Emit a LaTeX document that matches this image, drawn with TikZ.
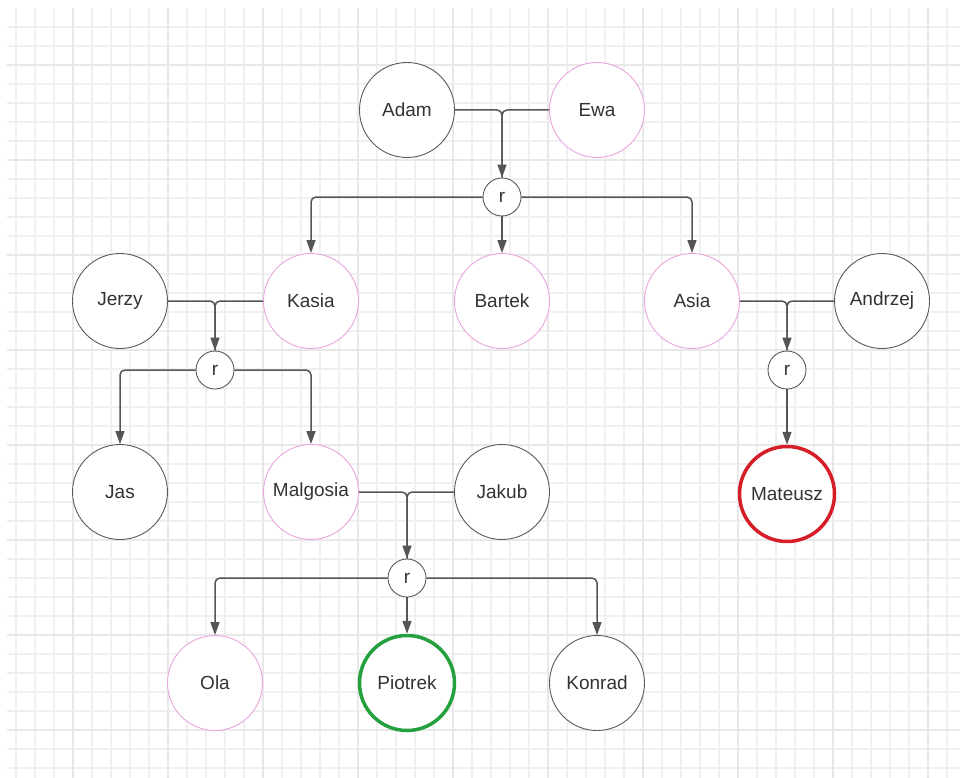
\documentclass[tikz,border=0pt]{standalone}
\usepackage{fontspec}
\setmainfont{Liberation Sans}
\usetikzlibrary{arrows.meta}
\definecolor{gridminor}{RGB}{240,240,240}
\definecolor{gridmajor}{RGB}{232,232,232}
\definecolor{edgegray}{RGB}{85,85,85}
\definecolor{mangray}{RGB}{90,90,90}
\definecolor{womanpink}{RGB}{232,165,222}
\definecolor{markred}{RGB}{214,30,40}
\definecolor{markgreen}{RGB}{36,160,62}
\definecolor{txtgray}{RGB}{51,51,51}
\begin{document}
\begin{tikzpicture}[
    x=1pt, y=-1pt,
    person/.style={circle, draw, fill=white, minimum size=95pt, inner sep=0pt,
                   font=\fontsize{19}{22}\selectfont, text=txtgray},
    man/.style={person, draw=mangray, line width=0.9pt},
    woman/.style={person, draw=womanpink, line width=0.9pt},
    rel/.style={circle, draw=mangray, fill=white, line width=0.9pt, minimum size=38pt,
                inner sep=0pt, font=\fontsize{19}{22}\selectfont, text=txtgray},
    link/.style={-{Triangle[width=9pt,length=13pt]}, draw=edgegray, line width=1.5pt,
                 rounded corners=5pt},
    spouseline/.style={draw=edgegray, line width=1.5pt, rounded corners=5pt}
]
\useasboundingbox (0,0) rectangle (960,778);

% grid background
\begin{scope}
  \clip (7,8) rectangle (960,778);
  \foreach \gx in {16,35,...,960} \draw[gridminor, line width=1.2pt] (\gx,8) -- (\gx,778);
  \foreach \gy in {27,46,...,778} \draw[gridminor, line width=1.2pt] (7,\gy) -- (960,\gy);
  \foreach \gx in {73,168,...,960} \draw[gridmajor, line width=1.4pt] (\gx,8) -- (\gx,778);
  \foreach \gy in {65,160,...,778} \draw[gridmajor, line width=1.4pt] (7,\gy) -- (960,\gy);
\end{scope}

% generation 1
\node[man]   (adam) at (407,110) {Adam};
\node[woman] (ewa)  at (597,110) {Ewa};
\node[rel]   (r1)   at (502,197) {r};

% generation 2
\node[man]   (jerzy)   at (120,301) {Jerzy};
\node[woman] (kasia)   at (311,301) {Kasia};
\node[woman] (bartek)  at (502,301) {Bartek};
\node[woman] (asia)    at (692,301) {Asia};
\node[man]   (andrzej) at (882,301) {Andrzej};
\node[rel]   (r2)      at (215,370) {r};
\node[rel]   (r3)      at (787,370) {r};

% generation 3
\node[man]   (jas)      at (120,492) {Jas};
\node[woman] (malgosia) at (311,492) {Malgosia};
\node[man]   (jakub)    at (502,492) {Jakub};
\node[person, draw=markred, line width=3.5pt] (mateusz) at (787,494) {Mateusz};
\node[rel]   (r4)       at (407,578) {r};

% generation 4
\node[woman] (ola)     at (215,683) {Ola};
\node[person, draw=markgreen, line width=3.5pt] (piotrek) at (407,683) {Piotrek};
\node[man]   (konrad)  at (597,683) {Konrad};

% parents to relation
\draw[spouseline] (ewa.west) -| (r1.north);
\draw[link] (adam.east) -| (r1.north);
\draw[spouseline] (kasia.west) -| (r2.north);
\draw[link] (jerzy.east) -| (r2.north);
\draw[spouseline] (andrzej.west) -| (r3.north);
\draw[link] (asia.east) -| (r3.north);
\draw[spouseline] (jakub.west) -| (r4.north);
\draw[link] (malgosia.east) -| (r4.north);

% relation to children
\draw[link] (r1.west) -| (kasia.north);
\draw[link] (r1.south) -- (bartek.north);
\draw[link] (r1.east) -| (asia.north);
\draw[link] (r2.west) -| (jas.north);
\draw[link] (r2.east) -| (malgosia.north);
\draw[link] (r3.south) -- (mateusz.north);
\draw[link] (r4.west) -| (ola.north);
\draw[link] (r4.south) -- (piotrek.north);
\draw[link] (r4.east) -| (konrad.north);

\end{tikzpicture}
\end{document}
